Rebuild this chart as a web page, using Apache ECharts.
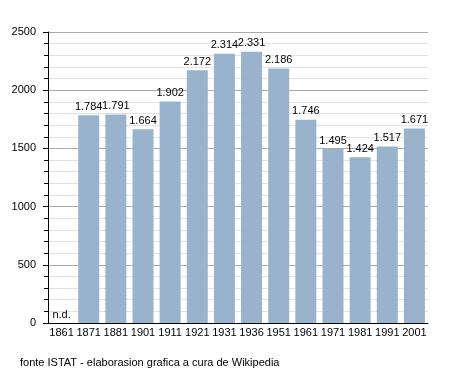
<!DOCTYPE html>
<html><head><meta charset="utf-8">
<script src="https://cdn.jsdelivr.net/npm/echarts@6/dist/echarts.min.js"></script>
<style>html,body{margin:0;padding:0;background:#fff}#c{width:455px;height:373px}</style>
</head><body><div id="c"></div>
<script>
const years = ['1861','1871','1881','1901','1911','1921','1931','1936','1951','1961','1971','1981','1991','2001'];
const population = [0,1784,1791,1664,1902,2172,2314,2331,2186,1746,1495,1424,1517,1671];
const labels = ['n.d.','1.784','1.791','1.664','1.902','2.172','2.314','2.331','2.186','1.746','1.495','1.424','1.517','1.671'];
const yTicks = [0,500,1000,1500,2000,2500];
const sourceNote = 'fonte ISTAT - elaborasion grafica a cura de Wikipedia';

const chart = echarts.init(document.getElementById('c'), null, {renderer:'canvas'});
chart.setOption({
  animation:false,
  textStyle:{fontFamily:'Liberation Sans, Arial, sans-serif'},
  graphic:[{type:'text',left:20,top:357,style:{text:sourceNote,font:'11px Liberation Sans, Arial, sans-serif',fill:'#000'}}],
  grid:{left:48,right:27,top:32,bottom:50},
  xAxis:{type:'category',data:years,
    axisLine:{lineStyle:{color:'#000',width:1}},
    axisTick:{show:false},
    axisLabel:{color:'#000',fontSize:11,margin:4,interval:0}},
  yAxis:{type:'value',min:yTicks[0],max:yTicks[yTicks.length-1],interval:500,
    axisLine:{show:true,lineStyle:{color:'#000'}},
    axisTick:{show:true,length:5,lineStyle:{color:'#000'}},
    minorTick:{show:true,splitNumber:5,length:4,lineStyle:{color:'#000'}},
    splitLine:{lineStyle:{color:'#aaaaaa',width:1}},
    minorSplitLine:{show:true,lineStyle:{color:'#e2e2e2',width:1}},
    axisLabel:{color:'#000',fontSize:11,margin:12,formatter:v=>String(v)}},
  series:[{type:'bar',data:population,barWidth:21,
    itemStyle:{color:'#99b3cd'},
    label:{show:true,position:'top',distance:3,color:'#000',fontSize:11,
      formatter:p=>labels[p.dataIndex]}}]
});
</script></body></html>
